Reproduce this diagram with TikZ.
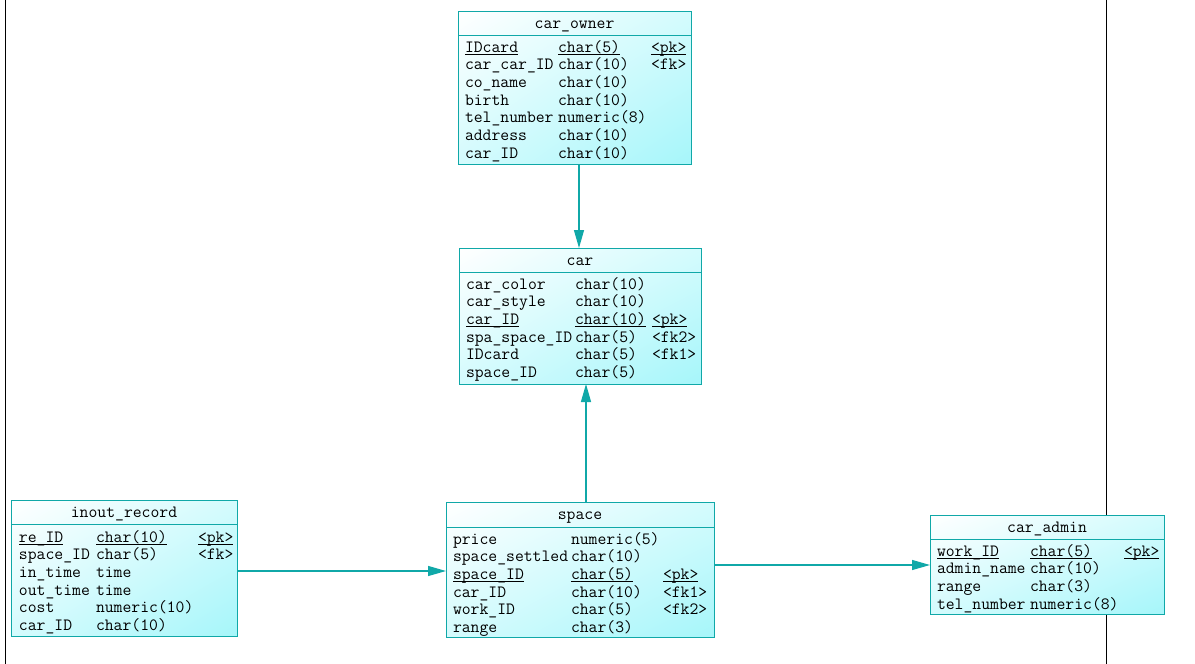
\documentclass[tikz,border=0pt]{standalone}
\usepackage{fontspec}
\usetikzlibrary{arrows.meta,shadings}
\definecolor{erline}{RGB}{16,168,168}
\definecolor{erfillA}{RGB}{166,246,250}
\definecolor{erfillB}{RGB}{212,251,253}
\tikzset{
  tbox/.style={draw=erline, line width=1pt, inner sep=0pt, outer sep=0pt,
    upper left=white, upper right=erfillB, lower left=erfillB, lower right=erfillA},
  tline/.style={draw=erline, line width=1pt},
  fld/.style={inner sep=0pt, outer sep=0pt, anchor=base west, font=\ttfamily\fontsize{17.2}{18}\selectfont},
  ttl/.style={inner sep=0pt, outer sep=0pt, anchor=base, font=\ttfamily\fontsize{17.2}{18}\selectfont},
  ul/.style={draw=black, line width=0.8pt},
  conn/.style={draw=erline, line width=1.2pt, -{Triangle[length=18pt,width=10pt]}},
  frame/.style={draw=black, line width=1pt}
}
% id, title, x1, y1, x2, y2, separator y
\newcommand\tablebox[7]{%
  \node[tbox, minimum width={#5-#3}, minimum height={#6-#4}, anchor=north west] (#1) at (#3,#4) {};
  \draw[tline] (#3,#7) -- (#5,#7);
  \node[ttl] (#1-title) at ({(#3+#5)/2},{(#4+#7)/2+5}) {#2};
}
% id, index, name, type, key, pk flag
\newcommand\frow[6]{%
  \node[fld] (#1-#2n) at (\xa,{\ry+(#2-1)*17.7+5}) {#3};
  \node[fld] (#1-#2t) at (\xb,{\ry+(#2-1)*17.7+5}) {#4};
  \if\relax\detokenize{#5}\relax\else
    \node[fld] (#1-#2k) at (\xc,{\ry+(#2-1)*17.7+5}) {#5};
  \fi
  \ifnum#6=1
    \draw[ul] ([yshift=-2pt]#1-#2n.base west) -- ([yshift=-2pt]#1-#2n.base east);
    \draw[ul] ([yshift=-2pt]#1-#2t.base west) -- ([yshift=-2pt]#1-#2t.base east);
    \draw[ul] ([yshift=-2pt]#1-#2k.base west) -- ([yshift=-2pt]#1-#2k.base east);
  \fi
}
\begin{document}
\begin{tikzpicture}[x=1pt,y=-1pt]
\useasboundingbox (0,0) rectangle (1195,664);
\fill[white] (0,0) rectangle (1195,664);
\draw[frame] (5,0) -- (5,664);
\draw[frame] (1106,0) -- (1106,664);

% car_owner
\tablebox{owner}{car\_owner}{458}{11}{691}{164}{35}
\def\xa{465}\def\xb{558}\def\xc{651}\def\ry{47}
\frow{owner}{1}{IDcard}{char(5)}{<pk>}{1}
\frow{owner}{2}{car\_car\_ID}{char(10)}{<fk>}{0}
\frow{owner}{3}{co\_name}{char(10)}{}{0}
\frow{owner}{4}{birth}{char(10)}{}{0}
\frow{owner}{5}{tel\_number}{numeric(8)}{}{0}
\frow{owner}{6}{address}{char(10)}{}{0}
\frow{owner}{7}{car\_ID}{char(10)}{}{0}

% car
\tablebox{car}{car}{459}{248}{701}{384}{272}
\def\xa{466}\def\xb{575}\def\xc{652}\def\ry{284}
\frow{car}{1}{car\_color}{char(10)}{}{0}
\frow{car}{2}{car\_style}{char(10)}{}{0}
\frow{car}{3}{car\_ID}{char(10)}{<pk>}{1}
\frow{car}{4}{spa\_space\_ID}{char(5)}{<fk2>}{0}
\frow{car}{5}{IDcard}{char(5)}{<fk1>}{0}
\frow{car}{6}{space\_ID}{char(5)}{}{0}

% inout_record
\tablebox{inout}{inout\_record}{11}{500}{237}{636}{524}
\def\xa{19}\def\xb{96}\def\xc{198}\def\ry{537}
\frow{inout}{1}{re\_ID}{char(10)}{<pk>}{1}
\frow{inout}{2}{space\_ID}{char(5)}{<fk>}{0}
\frow{inout}{3}{in\_time}{time}{}{0}
\frow{inout}{4}{out\_time}{time}{}{0}
\frow{inout}{5}{cost}{numeric(10)}{}{0}
\frow{inout}{6}{car\_ID}{char(10)}{}{0}

% space
\tablebox{space}{space}{446}{502}{714}{637}{527}
\def\xa{453}\def\xb{571}\def\xc{663}\def\ry{539}
\frow{space}{1}{price}{numeric(5)}{}{0}
\frow{space}{2}{space\_settled}{char(10)}{}{0}
\frow{space}{3}{space\_ID}{char(5)}{<pk>}{1}
\frow{space}{4}{car\_ID}{char(10)}{<fk1>}{0}
\frow{space}{5}{work\_ID}{char(5)}{<fk2>}{0}
\frow{space}{6}{range}{char(3)}{}{0}

% car_admin
\tablebox{admin}{car\_admin}{930}{515}{1164}{614}{539}
\def\xa{937}\def\xb{1030}\def\xc{1124}\def\ry{551}
\frow{admin}{1}{work\_ID}{char(5)}{<pk>}{1}
\frow{admin}{2}{admin\_name}{char(10)}{}{0}
\frow{admin}{3}{range}{char(3)}{}{0}
\frow{admin}{4}{tel\_number}{numeric(8)}{}{0}

% connectors
\draw[conn] ([xshift=-1pt]car.north |- owner.south) -- ([xshift=-1pt]car.north);
\draw[conn] ([xshift=6pt]space.north) -- ([xshift=6pt]space.north |- car.south);
\draw[conn] ([yshift=-3pt]inout.east) -- ([yshift=-3pt]inout.east -| space.west);
\draw[conn] ([yshift=4.5pt]space.east) -- ([yshift=4.5pt]space.east -| admin.west);
\end{tikzpicture}
\end{document}
